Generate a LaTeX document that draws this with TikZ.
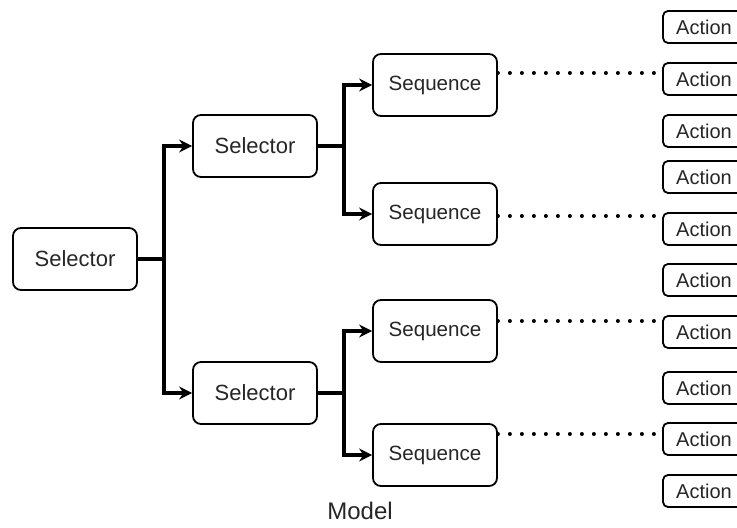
\documentclass[tikz,border=0pt]{standalone}
\usepackage{fontspec}
\setmainfont{Liberation Sans}
\usetikzlibrary{arrows.meta}

\begin{document}
\begin{tikzpicture}[x=0.5pt, y=-0.5pt, >={Stealth[length=6.5pt, width=6.5pt]},
    every node/.style={text=black!85},
    ctrl/.style={draw, line width=0.9pt, rounded corners=4pt, minimum width=62pt, minimum height=31pt, inner sep=0pt},
    act/.style={draw, line width=0.9pt, rounded corners=2.5pt, minimum width=41pt, minimum height=16pt, inner sep=0pt, font=\fontsize{10}{12}\selectfont},
    link/.style={->, line width=1.7pt},
    dots/.style={line width=2pt, line cap=round, dash pattern=on 0pt off 6pt}]

    \clip (0,0) rectangle (737,528);
    \fill[white] (0,0) rectangle (737,528);

    % selectors and sequences
    \node[ctrl, font=\fontsize{11}{13}\selectfont] (root) at (75,259) {Selector};
    \node[ctrl, font=\fontsize{11}{13}\selectfont] (selA) at (255,146) {Selector};
    \node[ctrl, font=\fontsize{11}{13}\selectfont] (selB) at (255,393) {Selector};
    \node[ctrl, font=\fontsize{10.3}{12}\selectfont] (seq1) at (435,85) {Sequence};
    \node[ctrl, font=\fontsize{10.3}{12}\selectfont] (seq2) at (435,214) {Sequence};
    \node[ctrl, font=\fontsize{10.3}{12}\selectfont] (seq3) at (435,331) {Sequence};
    \node[ctrl, font=\fontsize{10.3}{12}\selectfont] (seq4) at (435,455) {Sequence};

    % actions
    \foreach \i/\y in {1/27, 2/79, 3/131, 4/177, 5/229, 6/280, 7/332, 8/388, 9/439, 10/491}
        \node[act] (act\i) at (704,\y) {Action};

    \node[font=\fontsize{12}{14}\selectfont] (model) at (360,511) {Model};

    % tree links
    \draw[link] (root.east) -- ++(26,0) coordinate (j0) |- (selA.west);
    \draw[link] (j0) |- (selB.west);
    \draw[link] (selA.east) -- ++(26,0) coordinate (j1) |- (seq1.west);
    \draw[link] (j1) |- (seq2.west);
    \draw[link] (selB.east) -- ++(26,0) coordinate (j2) |- (seq3.west);
    \draw[link] (j2) |- (seq4.west);

    % dotted links to actions
    \draw[dots] ([yshift=6pt]seq1.east) -- ([yshift=6pt]seq1.east -| act2.west);
    \draw[dots] ([yshift=-1pt]seq2.east) -- ([yshift=-1pt]seq2.east -| act5.west);
    \draw[dots] ([yshift=5pt]seq3.east) -- ([yshift=5pt]seq3.east -| act7.west);
    \draw[dots] ([yshift=10.5pt]seq4.east) -- ([yshift=10.5pt]seq4.east -| act9.west);

\end{tikzpicture}
\end{document}
